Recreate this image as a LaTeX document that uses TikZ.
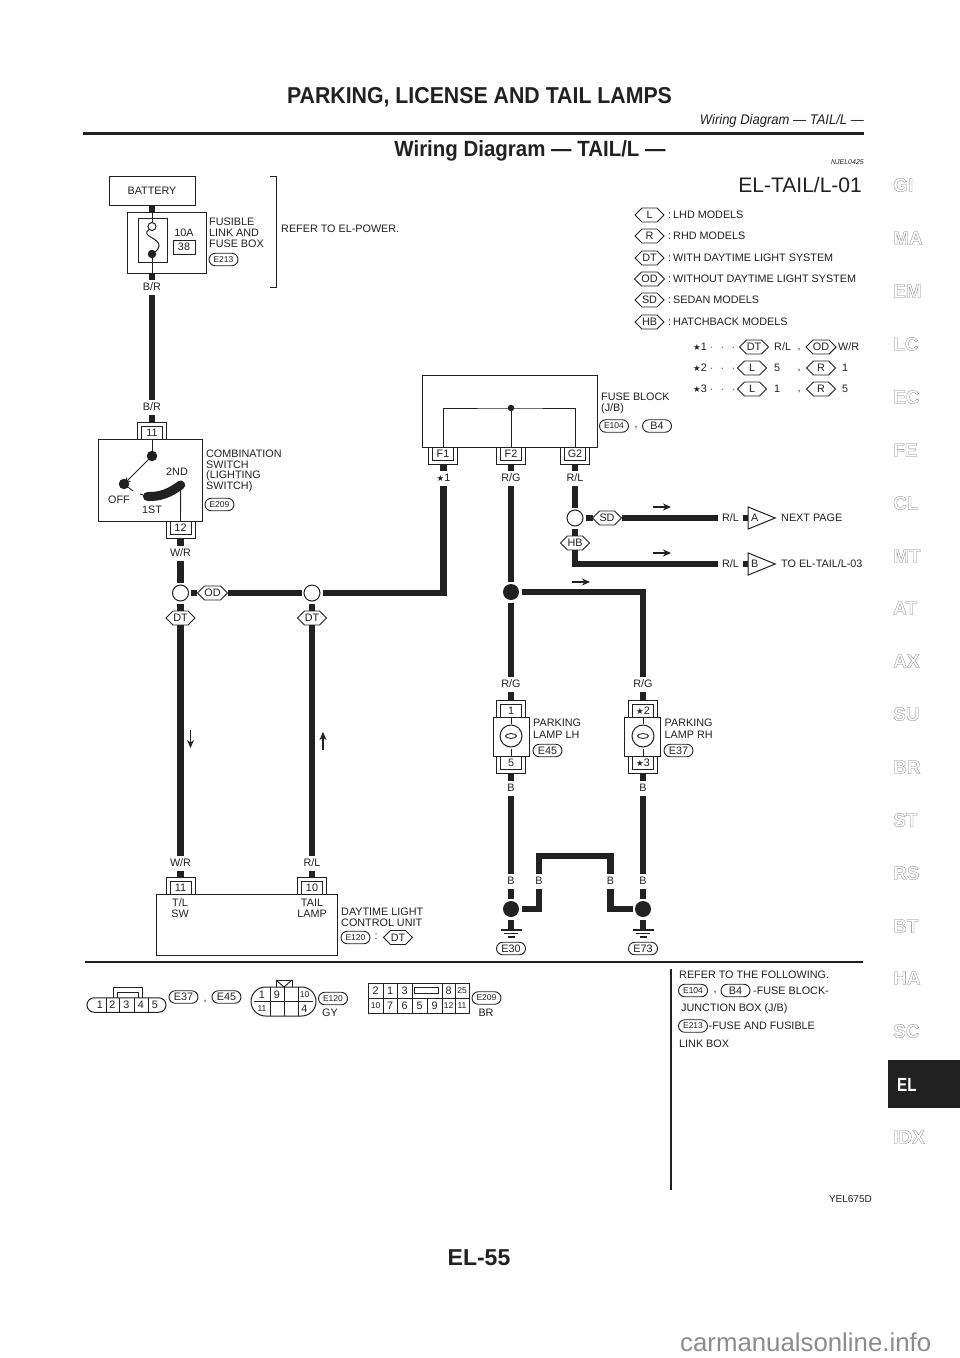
\documentclass[tikz,border=0pt]{standalone}
\usepackage{fontspec}
\setmainfont{Liberation Sans}
\newfontfamily\starfont{DejaVu Sans}
\usetikzlibrary{shapes.geometric,shapes.misc,shapes.symbols,arrows.meta}
\newcommand{\st}{{\starfont\fontsize{8.5}{8.5}\selectfont ★}}
\newcommand{\outl}[1]{\special{pdf:code q 1 Tr 0.3 w 0.5 G}#1\special{pdf:code Q}}
\newcommand{\dotsrow}{\hspace{3pt}$\cdot$\hspace{8pt}$\cdot$\hspace{8pt}$\cdot$}
\definecolor{ink}{gray}{0.13}
\tikzset{
 txt/.style={font=\fontsize{10.8}{11}\selectfont,text=ink,inner sep=0pt},
 ltxt/.style={txt,anchor=west},
 wlabel/.style={txt,minimum height=15pt,minimum width=10pt,outer sep=0pt},
 wire/.style={line width=6.6pt,draw=ink,line cap=butt,line join=miter},
 thin/.style={line width=0.9pt,draw=ink},
 pinbox/.style={txt,draw=ink,line width=0.9pt,fill=white,minimum width=21pt,minimum height=13pt,outer sep=0pt},
 bracket/.style={line width=1pt,draw=ink},
 devbox/.style={txt,draw=ink,line width=1pt,fill=white,outer sep=0pt},
 hexa/.style={txt,draw=ink,line width=0.9pt,fill=white,shape=signal,signal to=east and west,signal pointer angle=90,minimum width=29pt,minimum height=14pt,outer sep=0pt},
 pill/.style={txt,draw=ink,line width=0.9pt,fill=white,shape=rounded rectangle,minimum width=29pt,minimum height=12.5pt,outer sep=0pt},
 openj/.style={circle,draw=ink,line width=1pt,fill=white,minimum size=16pt,inner sep=0pt,outer sep=2.5pt},
 blackj/.style={circle,fill=ink,minimum size=16pt,inner sep=0pt,outer sep=2.5pt},
 tria/.style={txt,draw=ink,line width=1pt,fill=white,isosceles triangle,isosceles triangle apex angle=78,isosceles triangle stretches,minimum width=22pt,minimum height=27pt,inner sep=0pt},
 flowa/.style={line width=1.8pt,draw=ink,-{Stealth[length=8pt,width=7pt]}},
 tabl/.style={font=\fontsize{19}{19}\bfseries\selectfont,inner sep=0pt},
 small/.style={txt,font=\fontsize{8.5}{8.5}\selectfont},
}
% connector above a device: top edge of device at y=#3
\newcommand{\conT}[4]{\node[pinbox,anchor=south] (#1) at (#2,#3) {#4};
 \draw[bracket] (#2-14.5,#3) -- (#2-14.5,#3-17) -- (#2+14.5,#3-17) -- (#2+14.5,#3);
 \coordinate (#1o) at (#2,#3-17);}
% connector below a device
\newcommand{\conB}[4]{\node[pinbox,anchor=north] (#1) at (#2,#3) {#4};
 \draw[bracket] (#2-14.5,#3) -- (#2-14.5,#3+17) -- (#2+14.5,#3+17) -- (#2+14.5,#3);
 \coordinate (#1o) at (#2,#3+17);}
\newcommand{\flow}[5]{\coordinate (#1a) at (#2,#3); \coordinate (#1b) at (#4,#5); \draw[flowa] (#1a) -- (#1b);}
\newcommand{\ground}[3]{\coordinate (#1t) at (#2,#3);
 \draw[thin,line width=1.1pt] (#2-10.5,#3) -- (#2+10.5,#3) (#2-7,#3+3.5) -- (#2+7,#3+3.5) (#2-3.5,#3+7) -- (#2+3.5,#3+7);}
\newcommand{\lamp}[3]{% name,x,ycentre
 \node[circle,draw=ink,line width=1pt,minimum size=22pt,inner sep=0pt] (#1) at (#2,#3) {};
 \draw[thin] (#1.north) ++(0,-1) -- ++(0,-7) (#1.south) ++(0,1) -- ++(0,7);
 \draw[thin] (#2,#3) ellipse (5.5pt and 2.4pt);}
\begin{document}
\begin{tikzpicture}[x=1pt,y=-1pt]
\useasboundingbox (0,0) rectangle (960,1358);
\fill[white] (0,0) rectangle (960,1358);
% page header
\node[font=\fontsize{23}{23}\bfseries\selectfont,text=ink,inner sep=0pt,xscale=.926] (title) at (479.5,97) {PARKING, LICENSE AND TAIL LAMPS};
\node[font=\fontsize{14}{14}\itshape\selectfont,text=ink,inner sep=0pt,anchor=east,xscale=.93] (subt) at (864,121) {Wiring Diagram — TAIL/L —};
\draw[line width=3pt,draw=ink] (83,133) -- (864,133);
\node[font=\fontsize{22}{22}\bfseries\selectfont,text=ink,inner sep=0pt,xscale=.93] (head) at (530,151) {Wiring Diagram — TAIL/L —};
\node[font=\fontsize{7}{7}\itshape\selectfont,text=ink,inner sep=0pt,anchor=east] (njel) at (864,162) {NJEL0425};
\node[txt,font=\fontsize{21}{21}\selectfont,anchor=east] (eltitle) at (862,185) {EL-TAIL/L-01};
% battery and fuse
\node[devbox,minimum width=86pt,minimum height=29pt] (batt) at (152,190.5) {BATTERY};
\node[devbox,minimum width=79pt,minimum height=61pt] (fbox) at (166.5,242.5) {};
\draw[wire] (batt.south) -- (fbox.north -| batt.south);
\coordinate (fbot) at (152,273);
\node[wlabel] (lbr1) at (152,287) {B/R};
\node[wlabel] (lbr2) at (152,407) {B/R};
\draw[wire] (fbot) -- (lbr1.north);
\node[devbox,minimum width=29pt,minimum height=44pt] (finner) at (152.5,240) {};
\node[circle,draw=ink,line width=1pt,fill=white,minimum size=8pt,inner sep=0pt] (fo) at (152,226.5) {};
\node[circle,fill=ink,minimum size=8.5pt,inner sep=0pt] (fd) at (152,254) {};
\coordinate (ftop) at (152,212);
\draw[thin] (ftop) -- (fo.north);
\draw[thin] (fd.south) -- (fbot);
\draw[thin,line width=1pt] (fo.south west) .. controls (140,236) and (160,238) .. (159,246) .. controls (158.5,250) and (155,252) .. (fd.center);
\node[txt] (a10) at (184,233) {10A};
\node[devbox,minimum width=22pt,minimum height=14pt] (f38) at (184,247) {38};
\node[ltxt] (fl1) at (209,222) {FUSIBLE};
\node[ltxt] (fl2) at (209,233) {LINK AND};
\node[ltxt] (fl3) at (209,244) {FUSE BOX};
\node[pill,small] (pe213) at (223.5,259.5) {E213};
\draw[bracket] (270,176) -- (276.5,176) -- (276.5,287) -- (270,287);
\node[ltxt] (refp) at (281,229) {REFER TO EL-POWER.};
\draw[wire] (lbr1.south) -- (lbr2.north);
% combination switch
\node[devbox,minimum width=104pt,minimum height=82pt] (sw) at (150,480) {};
\conT{p11}{152}{439}{11}
\draw[wire] (lbr2.south) -- (p11o);
\conB{p12}{180.5}{521}{12}
\node[circle,fill=ink,minimum size=10.5pt,inner sep=0pt] (swa) at (152,456) {};
\node[circle,fill=ink,minimum size=10.5pt,inner sep=0pt] (swb) at (124,484) {};
\draw[thin] (p11.south) -- (swa.center);
\draw[line width=1pt,draw=ink,-{Stealth[length=7pt,width=6pt]}] (swa.center) -- (swb.center);
\coordinate (swe) at (133,491);
\draw[thin] (swb.center) -- (swe);
\coordinate (swc) at (147.5,496.5);
\coordinate (swd) at (180.7,485);
\coordinate (swf) at (140,494);
\draw[thin] (swf) -- (swc);
\draw[line width=9pt,draw=ink,line cap=round] (swc) .. controls (160,497) and (170,493) .. (swd);
\draw[thin] (swd) -- (p12.north);
\node[txt] (l2nd) at (177,472) {2ND};
\node[txt] (loff) at (119,499.5) {OFF};
\node[txt] (l1st) at (152,510) {1ST};
\node[ltxt] (cs1) at (206,454) {COMBINATION};
\node[ltxt] (cs2) at (206,465) {SWITCH};
\node[ltxt] (cs3) at (206,476) {(LIGHTING};
\node[ltxt] (cs4) at (206,487) {SWITCH)};
\node[pill,small] (pe209) at (219.5,504.5) {E209};
\node[wlabel] (lwr1) at (180.5,553) {W/R};
\draw[wire] (p12o) -- (lwr1.north);
% fuse block
\node[devbox,minimum width=175pt,minimum height=72pt] (fb) at (509.5,411) {};
\conB{pf1}{443}{447}{F1}
\conB{pf2}{511}{447}{F2}
\conB{pg2}{575}{447}{G2}
\node[circle,fill=ink,minimum size=6.5pt,inner sep=0pt] (fbd) at (511,408) {};
\draw[thin] (pf1.north) |- (fbd.center) -| (pg2.north);
\draw[thin] (fbd.center) -- (pf2.north);
\node[ltxt] (fb1) at (601,397) {FUSE BLOCK};
\node[ltxt] (fb2) at (601,409) {(J/B)};
\node[pill,small] (pe104) at (614,426) {E104};
\node[txt] (fbc) at (636,428) {,};
\node[pill] (pb4) at (657,426) {B4};
\node[wlabel] (ls1) at (443.5,478) {\st1};
\node[wlabel] (lrg1) at (511,478) {R/G};
\node[wlabel] (lrl1) at (575,478) {R/L};
\draw[wire] (pf1o) ++(0.5,0) -- (ls1.north);
\draw[wire] (pf2o) -- (lrg1.north);
\draw[wire] (pg2o) -- (lrl1.north);
% R/L branch
\node[openj] (j3) at (575,518) {};
\node[hexa] (hsd) at (607,518) {SD};
\node[hexa] (hhb) at (575,543) {HB};
\node[wlabel,minimum width=25pt] (lrl2) at (730.5,518) {R/L};
\node[wlabel,minimum width=25pt] (lrl3) at (730.5,564) {R/L};
\node[tria,anchor=apex] (ta) at (776,518) {A};
\node[tria,anchor=apex] (tb) at (776,564) {B};
\draw[wire] (lrl1.south) -- (j3.north);
\draw[wire] (j3.east) -- (hsd.west);
\draw[wire] (hsd.east) -- (lrl2.west);
\draw[wire] (lrl2.east) -- (ta.lower side);
\draw[wire] (lrl3.east) -- (tb.lower side);
\draw[wire] (j3.south) -- (hhb.north);
\draw[wire] (hhb.south) |- (lrl3.west);
\node[ltxt] (npg) at (781,518) {NEXT PAGE};
\node[ltxt] (toel) at (781,564) {TO EL-TAIL/L-03};
\flow{fa}{653}{507}{671}{507}
\flow{fb}{653}{553}{671}{553}
\flow{fc}{572}{582}{590}{582}
% W/R row
\node[openj] (j1) at (180.5,593) {};
\node[openj] (j2) at (312,593) {};
\node[hexa] (hod) at (212.5,593) {OD};
\node[hexa] (hdt1) at (180.5,618) {DT};
\node[hexa] (hdt2) at (312,618) {DT};
\draw[wire] (lwr1.south) -- (j1.north);
\draw[wire] (j1.east) -- (hod.west);
\draw[wire] (hod.east) -- (j2.west);
\draw[wire] (j2.east) -| (ls1.south);
\draw[wire] (j1.south) -- (hdt1.north);
\draw[wire] (j2.south) -- (hdt2.north);
% control unit
\node[devbox,minimum width=181pt,minimum height=61pt] (cu) at (246.5,924.5) {};
\conT{pc11}{180.5}{894}{11}
\conT{pc10}{312}{894}{10}
\node[wlabel] (lwr2) at (180.5,863) {W/R};
\node[wlabel] (lrl4) at (312,863) {R/L};
\draw[wire] (hdt1.south) -- (lwr2.north);
\draw[wire] (hdt2.south) -- (lrl4.north);
\draw[wire] (lwr2.south) -- (pc11o);
\draw[wire] (lrl4.south) -- (pc10o);
\flow{fd}{190.5}{730}{190.5}{748}
\flow{fe}{323}{750}{323}{732}
\node[txt] (tl1) at (180,902.5) {T/L};
\node[txt] (tl2) at (180,914) {SW};
\node[txt] (tl3) at (312,902.5) {TAIL};
\node[txt] (tl4) at (312,914) {LAMP};
\node[ltxt] (dl1) at (341,912) {DAYTIME LIGHT};
\node[ltxt] (dl2) at (341,923) {CONTROL UNIT};
\node[pill,small] (pe120) at (355.5,937.5) {E120};
\node[txt] (dl3) at (376,937) {:};
\node[hexa] (hdt3) at (398,937.5) {DT};
% parking lamps
\node[blackj] (j4) at (511,592) {};
\node[wlabel] (lrg2) at (511,684) {R/G};
\node[wlabel] (lrg3) at (643,684) {R/G};
\draw[wire] (lrg1.south) -- (j4.north);
\draw[wire] (j4.east) -| (lrg3.north);
\draw[wire] (j4.south) -- (lrg2.north);
\node[devbox,minimum width=36pt,minimum height=39pt] (lh) at (511,736.5) {};
\node[devbox,minimum width=36pt,minimum height=39pt] (rh) at (642.5,736.5) {};
\conT{pl1}{511}{717}{1}
\conB{pl5}{511}{756}{5}
\conT{pr2}{643}{717}{\st2}
\conB{pr3}{643}{756}{\st3}
\lamp{lml}{511}{736}
\lamp{lmr}{643}{736}
\draw[wire] (lrg2.south) -- (pl1o);
\draw[wire] (lrg3.south) -- (pr2o);
\node[ltxt] (pk1) at (533,723) {PARKING};
\node[ltxt] (pk2) at (533,734.5) {LAMP LH};
\node[pill] (pe45) at (547.5,750.5) {E45};
\node[ltxt] (pk3) at (664.5,723) {PARKING};
\node[ltxt] (pk4) at (664.5,734.5) {LAMP RH};
\node[pill] (pe37) at (678.5,750.5) {E37};
\node[wlabel] (lb1) at (511,788) {B};
\node[wlabel] (lb2) at (643,788) {B};
\draw[wire] (pl5o) -- (lb1.north);
\draw[wire] (pr3o) -- (lb2.north);
\node[wlabel] (lb3) at (511,881) {B};
\node[wlabel] (lb4) at (539,881) {B};
\node[wlabel] (lb5) at (610.5,881) {B};
\node[wlabel] (lb6) at (643,881) {B};
\draw[wire] (lb1.south) -- (lb3.north);
\draw[wire] (lb2.south) -- (lb6.north);
\node[blackj] (g1) at (511,909) {};
\node[blackj] (g2) at (643,909) {};
\draw[wire] (lb3.south) -- (g1.north);
\draw[wire] (lb6.south) -- (g2.north);
\coordinate (jtop) at (575,856);
\draw[wire] (lb4.north) |- (jtop) -| (lb5.north);
\draw[wire] (g1.east) -| (lb4.south);
\draw[wire] (g2.west) -| (lb5.south);
\ground{gnd1}{511}{930}
\ground{gnd2}{643}{930}
\draw[wire] (g1.south) -- (gnd1t);
\draw[wire] (g2.south) -- (gnd2t);
\node[pill] (pe30) at (511,948.5) {E30};
\node[pill] (pe73) at (643,948.5) {E73};
% legend
\foreach \yy/\tg/\tx in {215/L/LHD MODELS,236/R/RHD MODELS,258/DT/WITH DAYTIME LIGHT SYSTEM,279/OD/WITHOUT DAYTIME LIGHT SYSTEM,300/SD/SEDAN MODELS,322/HB/HATCHBACK MODELS}{
 \node[hexa] (leg\tg) at (649.5,\yy) {\tg};
 \node[ltxt] (legt\tg) at (668,\yy) {:\hspace{2pt}\tx};
}
\node[ltxt] (s1) at (693,347) {\st1\dotsrow};
\node[ltxt] (s2) at (693,368) {\st2\dotsrow};
\node[ltxt] (s3) at (693,389) {\st3\dotsrow};
\node[hexa] (s1a) at (754,347) {DT};
\node[ltxt] (s1b) at (774,347) {R/L};
\node[txt] (s1c) at (799,350) {,};
\node[hexa] (s1d) at (821,347) {OD};
\node[ltxt] (s1e) at (838,347) {W/R};
\node[hexa] (s2a) at (752,368) {L};
\node[ltxt] (s2b) at (774,368) {5};
\node[txt] (s2c) at (799,371) {,};
\node[hexa] (s2d) at (821,368) {R};
\node[ltxt] (s2e) at (842,368) {1};
\node[hexa] (s3a) at (752,389) {L};
\node[ltxt] (s3b) at (774,389) {1};
\node[txt] (s3c) at (799,392) {,};
\node[hexa] (s3d) at (821,389) {R};
\node[ltxt] (s3e) at (842,389) {5};
% bottom rule
\draw[line width=1.4pt,draw=ink] (85,962) -- (863,962);
\draw[line width=1.4pt,draw=ink] (671,969) -- (671,1190);
% connector E37/E45
\node[devbox,shape=rounded rectangle,minimum width=79pt,minimum height=14.5pt] (k1) at (126.5,1005) {};
\draw[bracket] (113,998) -- (113,987) -- (142,987) -- (142,998);
\draw[bracket] (117,998) -- (117,992) -- (138,992) -- (138,998);
\foreach \xx in {106,119,134,148} \draw[thin] (\xx,998) -- (\xx,1012);
\foreach \xx/\tt in {100/1,112.5/2,126.5/3,141/4,155/5} \node[txt] (k1n\tt) at (\xx,1005) {\tt};
\node[pill] (ke37) at (183.5,997) {E37};
\node[txt] (kc) at (205,1002) {,};
\node[pill] (ke45) at (226.5,997) {E45};
% connector E120
\node[devbox,shape=rounded rectangle,minimum width=65pt,minimum height=29pt] (k2) at (283.5,1001.5) {};
\draw[bracket] (276,987) -- (276,980) -- (292,980) -- (292,987);
\draw[thin] (276,980) -- (284,987) -- (292,980);
\draw[thin] (254,1001.5) -- (313,1001.5);
\foreach \xx in {270,284,298} \draw[thin] (\xx,987) -- (\xx,1016);
\node[txt] (k2a) at (262,994.5) {1};
\node[txt] (k2b) at (277,994.5) {9};
\node[small] (k2c) at (304.5,994.5) {10};
\node[small] (k2d) at (262,1008.5) {11};
\node[txt] (k2e) at (304.5,1008.5) {4};
\node[pill,small] (ke120) at (333,998.5) {E120};
\node[txt] (kgy) at (330,1013) {GY};
% connector E209
\node[devbox,minimum width=101pt,minimum height=30pt] (k3) at (418.5,998) {};
\draw[thin] (368,998) -- (469,998);
\foreach \xx in {383,397,412,442,455} \draw[thin] (\xx,983) -- (\xx,1013);
\draw[thin] (427,998) -- (427,1013);
\node[devbox,minimum width=24pt,minimum height=6.5pt] (kslot) at (426,990.5) {};
\foreach \xx/\tt in {375.5/2,390/1,404.5/3,448.5/8} \node[txt] (k3t\tt) at (\xx,990.5) {\tt};
\node[small] (k3t25) at (462,990.5) {25};
\node[small] (k3b10) at (375.5,1005.5) {10};
\foreach \xx/\tt in {390/7,404.5/6,419.5/5,434.5/9} \node[txt] (k3b\tt) at (\xx,1005.5) {\tt};
\node[small] (k3b12) at (448.5,1005.5) {12};
\node[small] (k3b11) at (462,1005.5) {11};
\node[pill,small] (ke209) at (486.5,998) {E209};
\node[txt] (kbr) at (486,1013) {BR};
% refer box
\node[ltxt] (r1) at (679,975) {REFER TO THE FOLLOWING.};
\node[pill,small] (re104) at (693,990.5) {E104};
\node[txt] (rc) at (715,993) {,};
\node[pill] (rb4) at (735.5,990.5) {B4};
\node[ltxt] (r2) at (753,990.5) {-FUSE BLOCK-};
\node[ltxt] (r3) at (681,1009) {JUNCTION BOX (J/B)};
\node[pill,small] (re213) at (693,1026) {E213};
\node[ltxt] (r4) at (708.5,1026) {-FUSE AND FUSIBLE};
\node[ltxt] (r5) at (679,1044) {LINK BOX};
% footer
\node[txt,font=\fontsize{10}{10}\selectfont,anchor=east] (yel) at (872,1199) {YEL675D};
\node[font=\fontsize{23}{23}\bfseries\selectfont,text=ink,inner sep=0pt] (page) at (479,1258) {EL-55};
\node[font=\fontsize{25.8}{26}\selectfont,text=black!45,inner sep=0pt,anchor=west] (wm) at (680,1342) {carmanualsonline.info};
% side tabs
\foreach \yy/\tt in {185/GI,238/MA,291/EM,344/LC,397/EC,450/FE,503/CL,556/MT,608/AT,661/AX,714/SU,767/BR,820/ST,873/RS,926/BT,978/HA,1031/SC,1137/IDX}{
 \node[tabl,anchor=west] (tab\tt) at (893,\yy) {\outl{\tt}};
}
\fill[ink] (888,1060) rectangle (960,1108);
\node[tabl,text=white,anchor=west,xscale=.8] (tabEL) at (897,1085) {EL};
\end{tikzpicture}
\end{document}
